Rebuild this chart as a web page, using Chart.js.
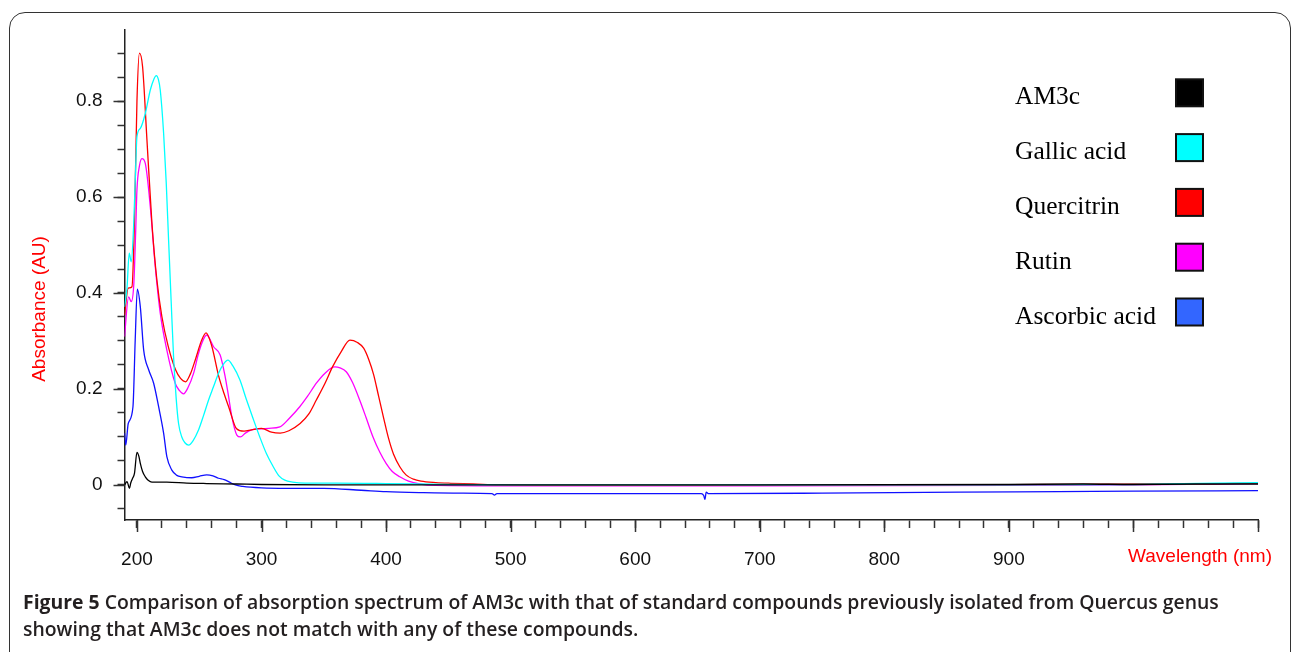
<!DOCTYPE html>
<html>
<head>
<meta charset="utf-8">
<script src="https://cdn.jsdelivr.net/npm/chart.js@4/dist/chart.umd.min.js"></script>
<style>
  html, body { margin: 0; padding: 0; background: #fff; overflow: hidden; }
  body { width: 1293px; height: 652px; position: relative; }
  #moldura {
    position: absolute; left: 9px; top: 12px; width: 1282px; height: 700px;
    border: 1.5px solid #333; border-radius: 16px; box-sizing: border-box;
  }
  #grafico { position: absolute; left: 0; top: 0; }
  #legendaFig {
    position: absolute; left: 23px; top: 588px; white-space: nowrap;
    font-family: "Open Sans", sans-serif; font-weight: 600; font-size: 17.8px;
    line-height: 27px; color: #231f20;
  }
  #legendaFig b { font-weight: 700; }
</style>
</head>
<body>
<div id="moldura"></div>
<canvas id="grafico" width="1293" height="652"></canvas>
<div id="legendaFig"><span id="linha1"><b>Figure 5</b> Comparison of absorption spectrum of AM3c with that of standard compounds previously isolated from Quercus genus</span><br>showing that AM3c does not match with any of these compounds.</div>
<script>
// ---- dados ----
const nomes = ['AM3c', 'Gallic acid', 'Quercitrin', 'Rutin', 'Ascorbic acid'];

const am3cNm  = [190, 192, 194, 195, 196.5, 198, 200, 201.5, 202.7, 204.5, 206.7, 209, 212, 224, 240, 256, 280, 300, 350, 500, 700, 900, 960, 1000, 1050, 1100];
const am3cAbs = [0.0, 0.007, -0.007, 0.004, 0.014, 0.024, 0.068, 0.06, 0.045, 0.028, 0.017, 0.01, 0.006, 0.006, 0.004, 0.003, 0.002, 0.001, 0, 0, 0, 0.001, 0.002, 0.001, 0.002, 0.002];

const galicoNm  = [190, 192, 193.8, 195.4, 197.3, 198.7, 200, 202.7, 206.7, 210.7, 213.5, 215.5, 217.2, 218.7, 221.4, 223.5, 225.4, 227.5, 229.4, 231.5, 233.4, 236, 238.5, 241.5, 245, 249.5, 253.5, 257.5, 261.5, 265.5, 269.5, 273, 277, 282.6, 288, 293, 298.6, 304, 309, 314, 318.7, 325, 335, 360, 400, 450, 500, 700, 900, 1000, 1100];
const galicoAbs = [0.371, 0.41, 0.483, 0.465, 0.538, 0.64, 0.726, 0.743, 0.774, 0.823, 0.845, 0.853, 0.845, 0.823, 0.733, 0.63, 0.51, 0.38, 0.267, 0.18, 0.128, 0.1, 0.088, 0.083, 0.092, 0.115, 0.145, 0.177, 0.205, 0.233, 0.252, 0.26, 0.248, 0.219, 0.177, 0.14, 0.1, 0.065, 0.04, 0.019, 0.01, 0.006, 0.004, 0.004, 0.003, 0.001, 0, 0, 0, 0.001, 0.005];

const quercitrinaNm  = [190, 193, 196, 198, 200, 202, 204.5, 208, 212, 216, 220, 225, 231, 235, 239, 243, 247, 252, 255.5, 260, 265.5, 270, 274, 280, 286, 292, 300, 308, 315, 322, 331, 338, 344, 351, 357, 364, 371, 377, 382, 386, 390, 394, 398, 402, 406, 411, 416, 422, 428, 440, 452, 470, 490, 550, 650, 750, 850, 950, 1000, 1050, 1100];
const quercitrinaAbs = [0.354, 0.41, 0.413, 0.55, 0.8, 0.9, 0.872, 0.72, 0.546, 0.427, 0.351, 0.29, 0.24, 0.222, 0.215, 0.232, 0.262, 0.302, 0.317, 0.29, 0.228, 0.19, 0.16, 0.117, 0.112, 0.115, 0.118, 0.11, 0.108, 0.113, 0.128, 0.148, 0.177, 0.212, 0.246, 0.278, 0.302, 0.297, 0.285, 0.262, 0.23, 0.185, 0.14, 0.097, 0.064, 0.038, 0.021, 0.012, 0.008, 0.005, 0.0035, 0.002, 0, -0.001, -0.001, 0, 0, 0.001, 0.002, 0.002, 0.004];

const rutinaNm  = [190, 193.3, 195.4, 197.5, 199, 200, 202, 204, 206.7, 210.7, 214.7, 218.7, 224, 230.7, 234, 237.4, 241, 245.5, 249, 252, 256, 261.5, 266.8, 270.8, 273.5, 276.2, 280.2, 283, 287, 292, 300, 306, 314.7, 322, 330.7, 337, 344, 351, 358.8, 363, 368, 373, 378.8, 384, 389.5, 395, 400, 405, 411, 418, 427, 440, 500, 700, 900, 1000, 1100];
const rutinaAbs = [0.309, 0.392, 0.382, 0.42, 0.53, 0.615, 0.665, 0.68, 0.67, 0.58, 0.455, 0.358, 0.281, 0.212, 0.197, 0.19, 0.203, 0.233, 0.27, 0.295, 0.3125, 0.288, 0.271, 0.226, 0.185, 0.142, 0.104, 0.1, 0.108, 0.115, 0.117, 0.118, 0.121, 0.138, 0.163, 0.185, 0.212, 0.233, 0.246, 0.244, 0.236, 0.214, 0.177, 0.14, 0.1, 0.068, 0.045, 0.028, 0.017, 0.008, 0.002, -0.001, -0.002, -0.002, -0.001, 0, 0.003];

const ascorbicoNm  = [190, 191, 193, 196.8, 198.6, 200.3, 202.7, 205.4, 209.4, 213.4, 217.4, 221.4, 224, 228, 232, 236, 244, 250, 256, 261, 265.5, 270, 273.5, 279, 285, 300, 320, 350, 380, 400, 430, 460, 485, 487, 489, 600, 653, 655, 656, 657, 659, 750, 860, 940, 1000, 1100];
const ascorbicoAbs = [0.108, 0.083, 0.128, 0.163, 0.302, 0.408, 0.371, 0.281, 0.24, 0.212, 0.163, 0.108, 0.059, 0.031, 0.02, 0.017, 0.015, 0.018, 0.021, 0.019, 0.014, 0.011, 0.007, 0, -0.003, -0.006, -0.007, -0.007, -0.011, -0.014, -0.016, -0.017, -0.018, -0.021, -0.018, -0.018, -0.018, -0.022, -0.03, -0.015, -0.018, -0.017, -0.015, -0.014, -0.013, -0.012];

const coresLinha   = ['#000000', '#00ffff', '#ff0000', '#ff00ff', '#1010ff'];
const coresLegenda = ['#000000', '#00ffff', '#ff0000', '#ff00ff', '#3366ff'];

const xTicks = [200, 220, 240, 260, 280, 300, 320, 340, 360, 380, 400, 420, 440, 460, 480, 500, 520, 540, 560, 580, 600, 620, 640, 660, 680, 700, 720, 740, 760, 780, 800, 820, 840, 860, 880, 900, 920, 940, 960, 980, 1000, 1020, 1040, 1060, 1080, 1100];
const xRotulos = [200, 300, 400, 500, 600, 700, 800, 900];
const yTicks = [-0.05, 0, 0.05, 0.1, 0.15, 0.2, 0.25, 0.3, 0.35, 0.4, 0.45, 0.5, 0.55, 0.6, 0.65, 0.7, 0.75, 0.8, 0.85, 0.9];
const yRotulos = [0, 0.2, 0.4, 0.6, 0.8];

const series = [
  [am3cNm, am3cAbs],
  [galicoNm, galicoAbs],
  [quercitrinaNm, quercitrinaAbs],
  [rutinaNm, rutinaAbs],
  [ascorbicoNm, ascorbicoAbs]
];

function ehRotulo(lista, v) {
  return lista.some(r => Math.abs(r - v) < 1e-6);
}

const fonteEixo = { family: '"Liberation Sans", Arial, sans-serif', size: 19 };

// tracinhos maiores nos valores principais + titulos dos eixos + legenda da direita
const extras = {
  id: 'extras',
  afterDraw(chart) {
    const ctx = chart.ctx;
    const area = chart.chartArea;
    const sx = chart.scales.x, sy = chart.scales.y;
    ctx.save();
    ctx.strokeStyle = '#333';
    ctx.lineWidth = 1.5;
    ctx.beginPath();
    xTicks.forEach(v => {
      if (v % 100 === 0) {
        const px = Math.round(sx.getPixelForValue(v)) + 0.5;
        ctx.moveTo(px, area.bottom);
        ctx.lineTo(px, area.bottom + 12);
      }
    });
    yRotulos.forEach(v => {
      const py = Math.round(sy.getPixelForValue(v)) + 0.5;
      ctx.moveTo(area.left, py);
      ctx.lineTo(area.left - 11, py);
    });
    ctx.stroke();

    // titulos dos eixos
    ctx.fillStyle = '#ff0000';
    ctx.font = '19px "Liberation Sans", Arial, sans-serif';
    ctx.textAlign = 'center';
    ctx.textBaseline = 'middle';
    ctx.fillText('Wavelength (nm)', 1200, 557);
    ctx.translate(40, 309);
    ctx.rotate(-Math.PI / 2);
    ctx.fillText('Absorbance (AU)', 0, 0);
    ctx.restore();

    // legenda
    ctx.save();
    ctx.font = '25.5px "Liberation Serif", "Times New Roman", serif';
    ctx.textAlign = 'left';
    ctx.textBaseline = 'alphabetic';
    chart.data.datasets.forEach((ds, i) => {
      const base = 104.3 + i * 54.8;
      ctx.fillStyle = '#000';
      ctx.fillText(ds.label, 1015, base);
      ctx.fillStyle = ds.backgroundColor;
      ctx.fillRect(1176, base - 25, 27, 27);
      ctx.strokeStyle = '#111';
      ctx.lineWidth = 2;
      ctx.strokeRect(1176, base - 25, 27, 27);
    });
    ctx.restore();
  }
};

new Chart(document.getElementById('grafico'), {
  type: 'line',
  data: {
    datasets: series.map((s, i) => ({
      label: nomes[i],
      data: s[0].map((x, j) => ({ x: x, y: s[1][j] })),
      borderColor: coresLinha[i],
      backgroundColor: coresLegenda[i],
      borderWidth: 1.3,
      pointRadius: 0,
      fill: false,
      cubicInterpolationMode: 'monotone'
    }))
  },
  options: {
    responsive: false,
    animation: false,
    devicePixelRatio: 1,
    layout: { padding: { left: 0, right: 35, top: 30, bottom: 0 } },
    plugins: {
      legend: { display: false },
      tooltip: { enabled: false }
    },
    scales: {
      x: {
        type: 'linear',
        min: 190,
        max: 1100,
        afterBuildTicks: scale => { scale.ticks = xTicks.map(v => ({ value: v })); },
        afterFit: scale => { scale.height = 132; },
        ticks: {
          autoSkip: false,
          maxRotation: 0,
          padding: 20,
          color: '#111',
          font: fonteEixo,
          callback: v => ehRotulo(xRotulos, v) ? String(v) : ''
        },
        grid: { drawOnChartArea: false, tickLength: 8, tickColor: '#333', tickWidth: 1.5 },
        border: { color: '#222', width: 1.5 }
      },
      y: {
        min: -0.073,
        max: 0.948,
        afterBuildTicks: scale => { scale.ticks = yTicks.map(v => ({ value: v })); },
        afterFit: scale => { scale.width = 124.5; },
        ticks: {
          autoSkip: false,
          padding: 15,
          color: '#111',
          font: fonteEixo,
          callback: v => ehRotulo(yRotulos, v) ? (Math.abs(v) < 1e-6 ? '0' : v.toFixed(1)) : ''
        },
        grid: { drawOnChartArea: false, tickLength: 7, tickColor: '#333', tickWidth: 1.5 },
        border: { color: '#222', width: 1.5 }
      }
    }
  },
  plugins: [extras]
});

// ajusta o tamanho da legenda da figura para a largura da primeira linha
const linha1 = document.getElementById('linha1');
const caixa = document.getElementById('legendaFig');
const larguraAlvo = 1196;
caixa.style.fontSize = (17.8 * larguraAlvo / linha1.offsetWidth) + 'px';
</script>
</body>
</html>
